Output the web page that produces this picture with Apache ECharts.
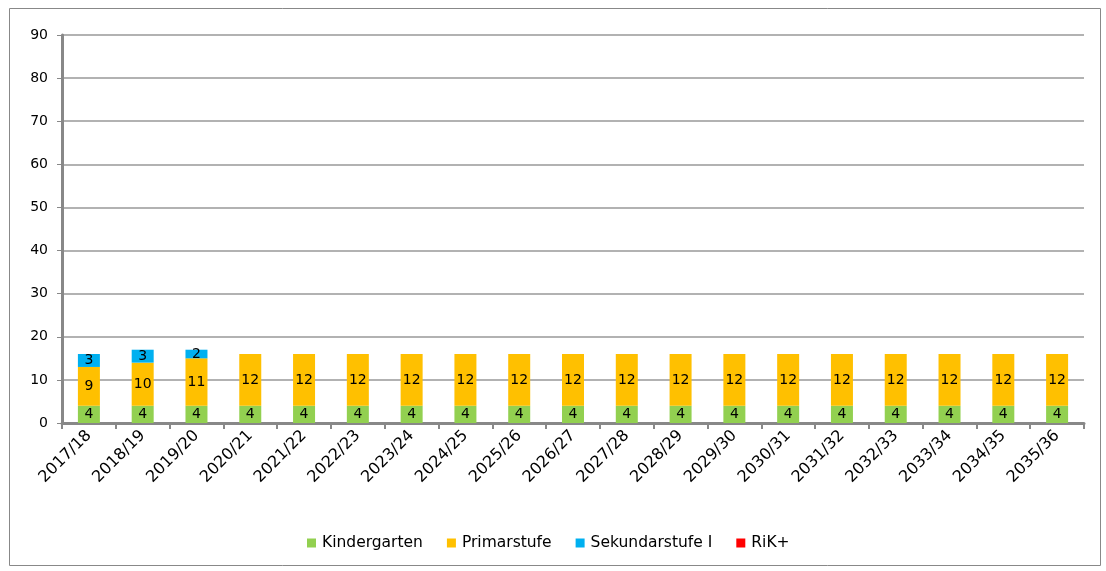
<!DOCTYPE html>
<html><head><meta charset="utf-8">
<script src="https://cdn.jsdelivr.net/npm/echarts@6/dist/echarts.min.js"></script>
<style>html,body{margin:0;padding:0;background:#fff}#c{width:1106px;height:571px}</style>
</head><body><div id="c"></div>
<script>
var categories = ['2017/18','2018/19','2019/20','2020/21','2021/22','2022/23','2023/24','2024/25','2025/26','2026/27','2027/28','2028/29','2029/30','2030/31','2031/32','2032/33','2033/34','2034/35','2035/36'];
var kindergarten = [4,4,4,4,4,4,4,4,4,4,4,4,4,4,4,4,4,4,4];
var primarstufe = [9,10,11,12,12,12,12,12,12,12,12,12,12,12,12,12,12,12,12];
var sekundarstufe = [3,3,2,0,0,0,0,0,0,0,0,0,0,0,0,0,0,0,0];
var rik = [0,0,0,0,0,0,0,0,0,0,0,0,0,0,0,0,0,0,0];
var yTicks = [0,10,20,30,40,50,60,70,80,90];

var font = 'DejaVu Sans';
var chart = echarts.init(document.getElementById('c'));
function lbl(){return {show:true,position:'inside',color:'#000',fontFamily:font,fontSize:14,
  formatter:function(p){return p.value? String(p.value):'';}};}
function ser(name,data,color){
  return {name:name,type:'bar',stack:'a',data:data,barWidth:22,
    itemStyle:{color:color},label:lbl(),emphasis:{disabled:true}};
}
chart.setOption({
  animation:false,
  textStyle:{fontFamily:font},
  graphic:[{type:'rect',shape:{x:9.5,y:8.5,width:1091,height:557},style:{fill:null,stroke:'#888',lineWidth:1},z:-1}],
  grid:{left:62,right:22,top:35,bottom:148,containLabel:false},
  legend:{top:530,left:302,itemWidth:9,itemHeight:9,itemGap:24,icon:'rect',
    textStyle:{fontFamily:font,fontSize:15.5,color:'#000',padding:[0,0,0,1]},
    data:['Kindergarten','Primarstufe','Sekundarstufe I','RiK+']},
  xAxis:{type:'category',data:categories,
    axisLine:{lineStyle:{color:'#888',width:3}},
    axisTick:{show:true,length:6,lineStyle:{color:'#888',width:2}},
    axisLabel:{rotate:45,color:'#000',fontFamily:font,fontSize:16,margin:10,interval:0}},
  yAxis:{type:'value',min:0,max:90,interval:10,
    axisLine:{show:true,lineStyle:{color:'#888',width:3}},
    axisTick:{show:true,length:5,lineStyle:{color:'#888',width:1}},
    axisLabel:{color:'#000',fontFamily:font,fontSize:14,margin:14,
      formatter:function(v){return yTicks.indexOf(v)>=0?String(v):'';}},
    splitLine:{lineStyle:{color:'#999',width:1.5}}},
  series:[ser('Kindergarten',kindergarten,'#92d050'),ser('Primarstufe',primarstufe,'#ffc000'),
    ser('Sekundarstufe I',sekundarstufe,'#00b0f0'),ser('RiK+',rik,'#ff0000')]
});
</script></body></html>
